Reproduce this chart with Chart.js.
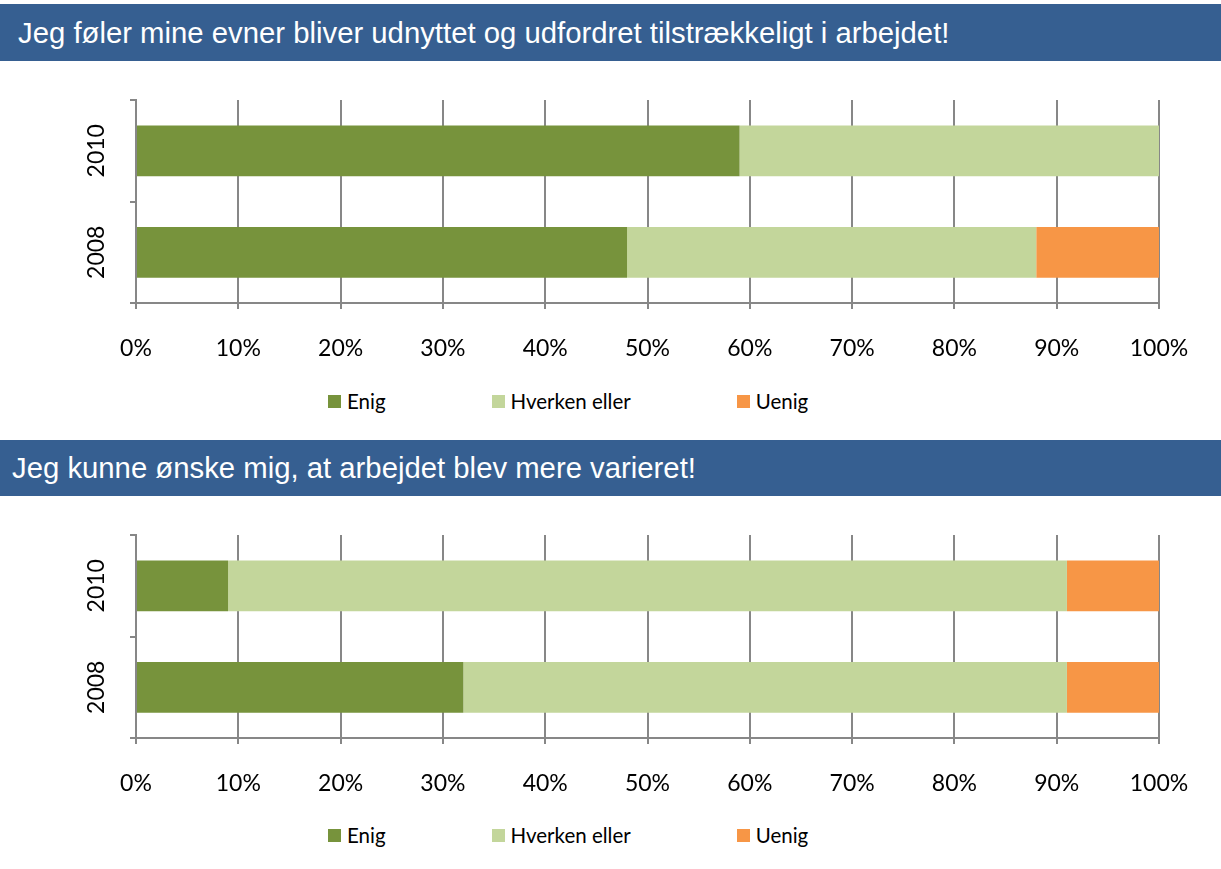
<!DOCTYPE html>
<html>
<head>
<meta charset="utf-8">
<script src="https://cdn.jsdelivr.net/npm/chart.js@4.4.1/dist/chart.umd.min.js"></script>
<style>
    body { margin: 0; width: 1221px; height: 869px; background: #fff; position: relative; overflow: hidden; font-family: Lato, sans-serif; }
    .hdr { position: absolute; left: 0; width: 1221px; background: #365F91; color: #fff; font-family: "Liberation Sans", Arial, sans-serif; font-size: 29.3px; box-sizing: border-box; white-space: nowrap; }
    .wrap { position: absolute; left: 0; width: 1221px; height: 300px; }
    .legend { position: absolute; display: flex; font-size: 20.5px; line-height: 26px; color: #000; }
    .legend .item { display: flex; align-items: center; margin-right: 106px; }
    .legend i { display: inline-block; width: 13px; height: 13px; margin-right: 6px; }
</style>
</head>
<body>
<div class="hdr" id="hdr1" style="top:4px;height:57px;line-height:57px;padding-left:18px;"></div>
<div class="wrap" style="top:61px;"><canvas id="chart1"></canvas></div>
<div class="legend" id="legend1" style="top:388px;left:328px;"></div>

<div class="hdr" id="hdr2" style="top:440px;height:56px;line-height:56px;padding-left:12px;"></div>
<div class="wrap" style="top:496px;"><canvas id="chart2"></canvas></div>
<div class="legend" id="legend2" style="top:822px;left:328px;"></div>

<script>
const titles = [
    'Jeg føler mine evner bliver udnyttet og udfordret tilstrækkeligt i arbejdet!',
    'Jeg kunne ønske mig, at arbejdet blev mere varieret!'
];
const years = ['2010', '2008'];
const seriesNames = ['Enig', 'Hverken eller', 'Uenig'];
const seriesColors = ['#77933C', '#C3D69B', '#F79646'];

// spørgsmål 1
const enig1 = [59, 48];
const hverken1 = [41, 40];
const uenig1 = [0, 12];

// spørgsmål 2
const enig2 = [9, 32];
const hverken2 = [82, 59];
const uenig2 = [9, 9];

const xTicks = [0, 10, 20, 30, 40, 50, 60, 70, 80, 90, 100];

const gridColor = '#878787';

function renderLegend(id) {
    const el = document.getElementById(id);
    seriesNames.forEach((name, i) => {
        const item = document.createElement('span');
        item.className = 'item';
        const box = document.createElement('i');
        box.style.background = seriesColors[i];
        item.appendChild(box);
        item.appendChild(document.createTextNode(name));
        el.appendChild(item);
    });
}

function renderChart(id, values) {
    const ctx = document.getElementById(id).getContext('2d');
    return new Chart(ctx, {
        type: 'bar',
        data: {
            labels: years,
            datasets: values.map((v, i) => ({
                label: seriesNames[i],
                data: v,
                backgroundColor: seriesColors[i],
                borderWidth: 0,
                categoryPercentage: 0.5,
                barPercentage: 1
            }))
        },
        options: {
            indexAxis: 'y',
            responsive: true,
            maintainAspectRatio: false,
            animation: false,
            layout: { padding: { top: 39, right: 62, left: 0, bottom: 0 } },
            plugins: {
                legend: { display: false },
                tooltip: { enabled: false }
            },
            scales: {
                x: {
                    stacked: true,
                    min: 0,
                    max: 100,
                    afterBuildTicks: (scale) => {
                        scale.ticks = xTicks.map(v => ({ value: v }));
                    },
                    afterFit: (scale) => { scale.height = 58; },
                    grid: {
                        color: gridColor,
                        lineWidth: 2,
                        tickLength: 6,
                        drawTicks: true
                    },
                    border: { color: gridColor, width: 2 },
                    ticks: {
                        color: '#000',
                        padding: 26,
                        maxRotation: 0,
                        font: { family: 'Lato', size: 23 },
                        callback: (v) => v + '%'
                    }
                },
                y: {
                    stacked: true,
                    afterFit: (scale) => { scale.width = 136; },
                    grid: {
                        offset: true,
                        drawOnChartArea: false,
                        drawTicks: true,
                        tickLength: 6,
                        color: gridColor,
                        lineWidth: 2
                    },
                    border: { color: gridColor, width: 2 },
                    ticks: {
                        color: '#000',
                        minRotation: 90,
                        maxRotation: 90,
                        crossAlign: 'center',
                        padding: 7,
                        font: { family: 'Lato', size: 23 }
                    }
                }
            }
        }
    });
}

document.getElementById('hdr1').textContent = titles[0];
document.getElementById('hdr2').textContent = titles[1];
renderLegend('legend1');
renderLegend('legend2');
renderChart('chart1', [enig1, hverken1, uenig1]);
renderChart('chart2', [enig2, hverken2, uenig2]);
</script>
</body>
</html>
